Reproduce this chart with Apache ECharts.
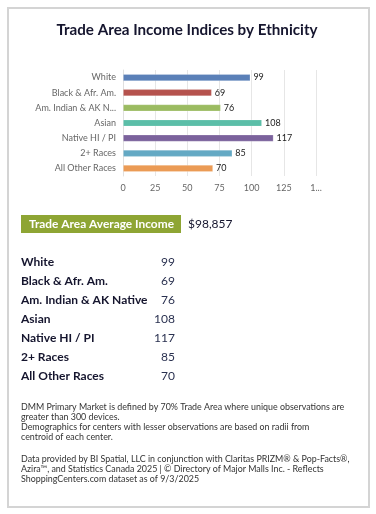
<!DOCTYPE html>
<html>
<head>
<meta charset="utf-8">
<script src="https://cdn.jsdelivr.net/npm/echarts@6/dist/echarts.min.js"></script>
<style>
html,body{margin:0;padding:0;background:#fff;}
#c{width:376px;height:514px;}
</style>
</head>
<body>
<div id="c"></div>
<script>
var categories = ['White','Black & Afr. Am.','Am. Indian & AK Native','Asian','Native HI / PI','2+ Races','All Other Races'];
var tableLabels = ['White','Black & Afr. Am.','Am. Indian & AK Native','Asian','Native HI / PI','2+ Races','All Other Races'];
var values = [99, 69, 76, 108, 117, 85, 70];
var barColors = ['#5b80b8','#b5524d','#9bbb61','#5bbea8','#7b629c','#64a9c4','#eb9b55'];
var xTicks = [0, 25, 50, 75, 100, 125, 150];
var avgIncome = '$98,857';
var titleText = 'Trade Area Income Indices by Ethnicity';
var noteLines = [
  'DMM Primary Market is defined by 70% Trade Area where unique observations are',
  'greater than 300 devices.',
  'Demographics for centers with lesser observations are based on radii from',
  'centroid of each center.',
  '',
  'Data provided by BI Spatial, LLC in conjunction with Claritas PRIZM\u00AE & Pop-Facts\u00AE,',
  'Azira\u2122, and Statistics Canada 2025 | \u00A9 Directory of Major Malls Inc. - Reflects',
  'ShoppingCenters.com dataset as of 9/3/2025'
];

var FONT = 'Lato, "Open Sans", sans-serif';
var chart = echarts.init(document.getElementById('c'), null, {renderer:'canvas'});

var graphics = [];
graphics.push({type:'rect', shape:{x:8,y:8,width:361,height:499}, style:{fill:'#fff', stroke:'#d4d4d4', lineWidth:2}, z:-10});
graphics.push({type:'text', x:187, y:30, style:{text:titleText, fill:'#15152e', font:'bold 15.2px '+FONT, textAlign:'center', textVerticalAlign:'middle'}});
graphics.push({type:'rect', shape:{x:21,y:215,width:160,height:18}, style:{fill:'#8ea534'}});
graphics.push({type:'text', x:29, y:224.5, style:{text:'Trade Area Average Income', fill:'#fff', font:'bold 11.9px '+FONT, textVerticalAlign:'middle'}});
graphics.push({type:'text', x:188, y:224.5, style:{text:avgIncome, fill:'#15152e', font:'12px '+FONT, textVerticalAlign:'middle'}});
for (var i = 0; i < tableLabels.length; i++) {
  var y = 262 + i * 19;
  graphics.push({type:'text', x:21, y:y, style:{text:tableLabels[i], fill:'#15152e', font:'bold 12px '+FONT, textVerticalAlign:'middle'}});
  graphics.push({type:'text', x:175, y:y, style:{text:String(values[i]), fill:'#2a3150', font:'12px '+FONT, textAlign:'right', textVerticalAlign:'middle'}});
}
var noteY = [407, 417, 427, 437, 447, 459, 469, 479];
for (var j = 0; j < noteLines.length; j++) {
  if (!noteLines[j]) continue;
  graphics.push({type:'text', x:21, y:noteY[j], style:{text:noteLines[j], fill:'#333', font:'8.9px '+FONT, textVerticalAlign:'middle'}});
}

chart.setOption({
  animation:false,
  grid:{left:123, right:60, top:70, bottom:338, containLabel:false},
  xAxis:{
    type:'value', min:0, max:150, interval:25,
    axisLine:{show:false}, axisTick:{show:false},
    splitLine:{lineStyle:{color:'#e6e6e6', width:1}},
    axisLabel:{color:'#666', fontSize:9, fontFamily:FONT, margin:8,
      formatter:function(v){ return v === 150 ? '1...' : String(v); }}
  },
  yAxis:{
    type:'category', data:categories, inverse:true,
    axisLine:{show:true, lineStyle:{color:'#e0e0e0'}}, axisTick:{show:false},
    axisLabel:{color:'#666', fontSize:9, fontFamily:FONT, margin:7, width:85, overflow:'truncate', ellipsis:'...'}
  },
  series:[{
    type:'bar', barWidth:7,
    data: values.map(function(v,k){ return {value:v, itemStyle:{color:barColors[k]}}; }),
    itemStyle:{borderColor:'rgba(255,255,255,0.25)', borderWidth:0.8},
    label:{show:true, position:'right', distance:3, color:'#222', fontSize:9, fontFamily:FONT}
  }],
  graphic:graphics
});
</script>
</body>
</html>
